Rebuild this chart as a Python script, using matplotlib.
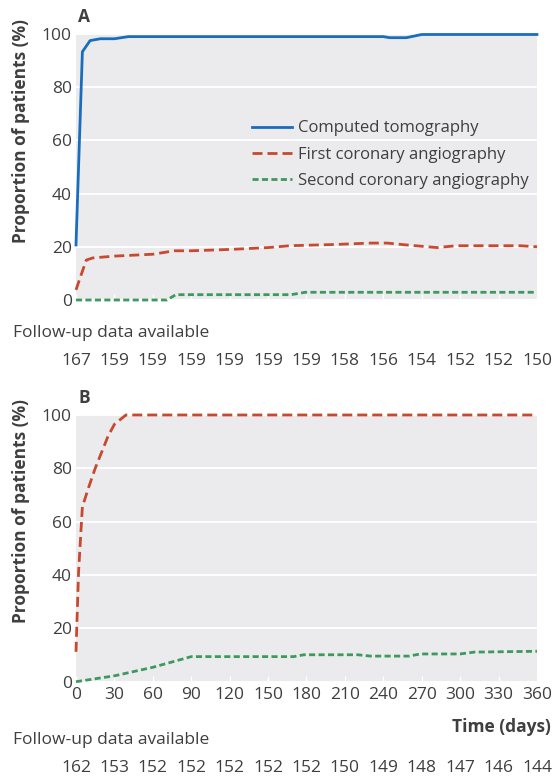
import numpy as np
import matplotlib.pyplot as plt

plt.rcParams['font.family'] = ['Open Sans', 'DejaVu Sans']

# ---- data: panel A ----
a_ct_days = [0, 5, 11, 19, 30, 41, 60, 90, 120, 150, 180, 210, 240, 245, 258, 270, 300, 330, 360]
a_ct_vals = [20.7, 93.3, 97.5, 98.2, 98.2, 99.0, 99.0, 99.0, 99.0, 99.0, 99.0, 99.0, 99.0, 98.6, 98.6, 99.8, 99.8, 99.8, 99.8]

a_first_days = [0, 8, 13, 30, 60, 77, 90, 120, 150, 167, 204, 230, 243, 258, 282, 297, 330, 347, 360]
a_first_vals = [3.8, 15.0, 15.8, 16.5, 17.2, 18.5, 18.5, 19.0, 19.7, 20.4, 20.9, 21.4, 21.4, 20.7, 19.7, 20.4, 20.4, 20.4, 20.0]

a_second_days = [0, 30, 60, 71, 78, 120, 150, 168, 179, 210, 270, 360]
a_second_vals = [0, 0, 0, 0, 2.0, 2.0, 2.0, 2.0, 2.9, 2.9, 2.9, 2.9]

a_followup = [167, 159, 159, 159, 159, 159, 159, 158, 156, 154, 152, 152, 150]

# ---- data: panel B ----
b_first_days = [0, 2, 5, 10, 15, 20, 25, 30, 39, 60, 120, 180, 240, 300, 360]
b_first_vals = [11.2, 41, 65.6, 73, 80, 86, 92, 96.5, 100, 100, 100, 100, 100, 100, 100]

b_second_days = [0, 30, 60, 90, 120, 170, 178, 220, 230, 260, 269, 300, 311, 360]
b_second_vals = [0, 2.2, 5.4, 9.4, 9.4, 9.4, 10.1, 10.1, 9.6, 9.6, 10.4, 10.4, 11.1, 11.4]

b_followup = [162, 153, 152, 152, 152, 152, 152, 150, 149, 148, 147, 146, 144]

tick_days = list(range(0, 361, 30))

labels = ['Computed tomography', 'First coronary angiography', 'Second coronary angiography']
c_blue = '#1a6dbd'
c_red = '#c8492f'
c_green = '#3d9a5e'
bg = '#ebebee'
txt = '#3f3f3f'

fig = plt.figure(figsize=(5.53, 7.79), dpi=100)
axA = fig.add_axes([0.1374, 0.6149, 0.8336, 0.3415])
axB = fig.add_axes([0.1374, 0.1249, 0.8336, 0.3424])


def style(ax, show_labels):
    ax.set_facecolor(bg)
    for s in ax.spines.values():
        s.set_visible(False)
    ax.set_xlim(0, 360)
    ax.set_ylim(0, 100)
    ax.set_yticks([0, 20, 40, 60, 80, 100])
    ax.set_xticks(tick_days)
    ax.grid(axis='y', color='white', lw=1.3)
    ax.set_axisbelow(True)
    ax.tick_params(axis='y', length=0, pad=3, labelsize=12.5, labelcolor=txt)
    ax.tick_params(axis='x', direction='in', length=4, width=1, color='white',
                   pad=4, labelsize=12.5, labelcolor=txt, labelbottom=show_labels)


style(axA, False)
style(axB, True)

lw = 2
axA.plot(a_ct_days, a_ct_vals, color=c_blue, lw=lw, clip_on=False, label=labels[0])
axA.plot(a_first_days, a_first_vals, color=c_red, lw=lw, dashes=(3.6, 1.8), clip_on=False, label=labels[1])
axA.plot(a_second_days, a_second_vals, color=c_green, lw=lw, dashes=(2.2, 1.2), clip_on=False, label=labels[2])

axB.plot(b_first_days, b_first_vals, color=c_red, lw=lw, dashes=(3.6, 1.8), clip_on=False)
axB.plot(b_second_days, b_second_vals, color=c_green, lw=lw, dashes=(2.2, 1.2), clip_on=False)

leg = axA.legend(loc='upper left', bbox_to_anchor=(0.368, 0.70), frameon=False,
                 fontsize=12, handlelength=2.4, handletextpad=0.35,
                 labelspacing=0.62, borderaxespad=0)
for t in leg.get_texts():
    t.set_color(txt)

# panel letters
fig.text(78 / 553, 1 - 17 / 779, 'A', fontsize=12.5, fontweight='bold', color=txt, va='center')
fig.text(78 / 553, 1 - 398 / 779, 'B', fontsize=12.5, fontweight='bold', color=txt, va='center')

# y labels
for yc in (131, 511):
    fig.text(21 / 553, 1 - yc / 779, 'Proportion of patients (%)', rotation=90,
             fontsize=12.5, fontweight='bold', color=txt, ha='center', va='center')

fig.text(551 / 553, 1 - 727 / 779, 'Time (days)', fontsize=12.5, fontweight='bold',
         color=txt, ha='right', va='center')

# follow-up rows
for yt, yn, counts, ax in ((333, 361, a_followup, axA), (740, 768, b_followup, axB)):
    fig.text(13 / 553, 1 - yt / 779, 'Follow-up data available', fontsize=12.5,
             color=txt, va='center')
    for d, n in zip(tick_days, counts):
        xf = ax.transData.transform((d, 0))[0] / fig.bbox.width
        fig.text(xf, 1 - yn / 779, str(n), fontsize=12.5, color=txt, ha='center', va='center')

fig.savefig('out.png', dpi=100)
